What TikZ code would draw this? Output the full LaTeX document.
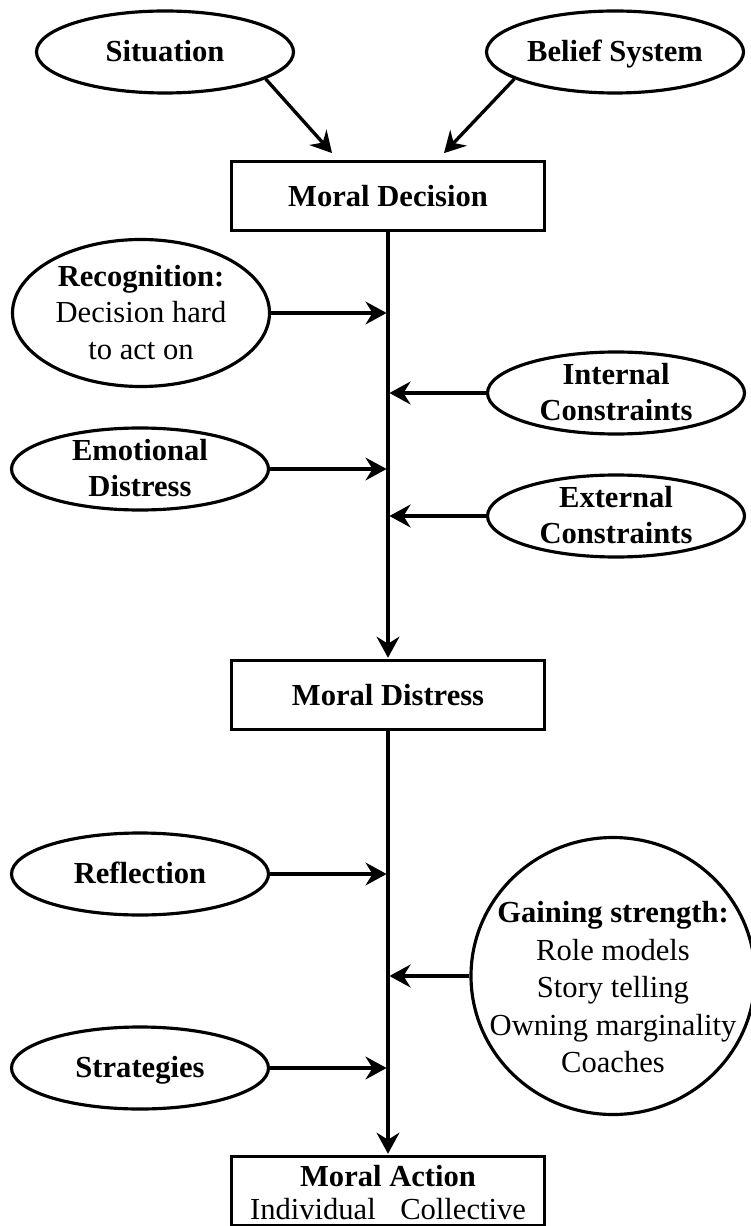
\documentclass[tikz,border=0pt]{standalone}
\usepackage{fontspec}
\setmainfont{Liberation Serif}
\usepackage{tikz}
\usetikzlibrary{arrows.meta,shapes.geometric}
\tikzset{
  factoroval/.style = {ellipse, draw, line width=1.8pt, inner sep=0pt,
                       minimum width=5.14cm, minimum height=1.64cm},
  stagebox/.style   = {rectangle, draw, line width=1.8pt, inner sep=0pt,
                       minimum width=6.26cm, minimum height=1.37cm},
  flow/.style       = {-{Stealth[length=12pt,width=13pt,inset=4pt]},
                       line width=1.9pt, shorten >=0.8pt},
}
% centred lines of text that do not push the shape open
\newcommand{\ovaltext}[2][-0.325em]{%
  \makebox[0pt]{\smash{\raisebox{#1}{%
    \begin{tabular}{@{}c@{}}#2\end{tabular}}}}%
}
\begin{document}
\begin{tikzpicture}[every node/.style={font=\fontsize{17.4}{20.8}\selectfont}]
  \useasboundingbox (0,0) rectangle (15.02,-24.52);

  \node[factoroval] (sit) at ( 3.30,-1.04) {\ovaltext{\textbf{Situation}}};
  \node[factoroval] (bel) at (12.30,-1.04) {\ovaltext{\textbf{Belief System}}};
  \node[stagebox]   (dec) at ( 7.76,-3.92) {\textbf{Moral Decision}};

  \node[factoroval, minimum height=2.94cm] (rec) at (2.82,-6.26)
    {\ovaltext{\textbf{Recognition:}\\Decision hard\\to act on}};
  \node[factoroval] (int) at (12.32,-7.86)
    {\ovaltext{\textbf{Internal}\\\textbf{Constraints}}};
  \node[factoroval] (emo) at ( 2.80,-9.38)
    {\ovaltext{\textbf{Emotional}\\\textbf{Distress}}};
  \node[factoroval] (ext) at (12.32,-10.32)
    {\ovaltext{\textbf{External}\\\textbf{Constraints}}};

  \node[stagebox] (dis) at (7.76,-13.90) {\textbf{Moral Distress}};

  \node[factoroval] (ref) at (2.80,-17.48) {\ovaltext{\textbf{Reflection}}};
  \node[factoroval, minimum width=5.68cm, minimum height=5.54cm] (gai) at (12.26,-19.52)
    {\ovaltext[-0.72em]{\textbf{Gaining strength:}\\[0.5pt]Role models\\[0.5pt]Story telling\\[0.5pt]Owning marginality\\[0.5pt]Coaches}};
  \node[factoroval] (str) at (2.80,-21.36) {\ovaltext{\textbf{Strategies}}};

  \node[stagebox] (act) at (7.76,-23.82)
    {\ovaltext[-0.41em]{\textbf{Moral Action}\\[-2pt]Individual\hspace{0.8em}Collective}};

  \draw[flow] (sit.-15)  -- ([xshift=-1.1cm,yshift=0.12cm]dec.north);
  \draw[flow] (bel.-165) -- ([xshift=1.1cm,yshift=0.12cm]dec.north);
  \draw[flow] (dec) -- (dis);
  \draw[flow] (dis) -- (act);

  \draw[flow] (rec.east) -- (rec.east -| dec.south);
  \draw[flow] (int.west) -- (int.west -| dec.south);
  \draw[flow] (emo.east) -- (emo.east -| dec.south);
  \draw[flow] (ext.west) -- (ext.west -| dec.south);
  \draw[flow] (ref.east) -- (ref.east -| dec.south);
  \draw[flow] (gai.west) -- (gai.west -| dec.south);
  \draw[flow] (str.east) -- (str.east -| dec.south);
\end{tikzpicture}
\end{document}
